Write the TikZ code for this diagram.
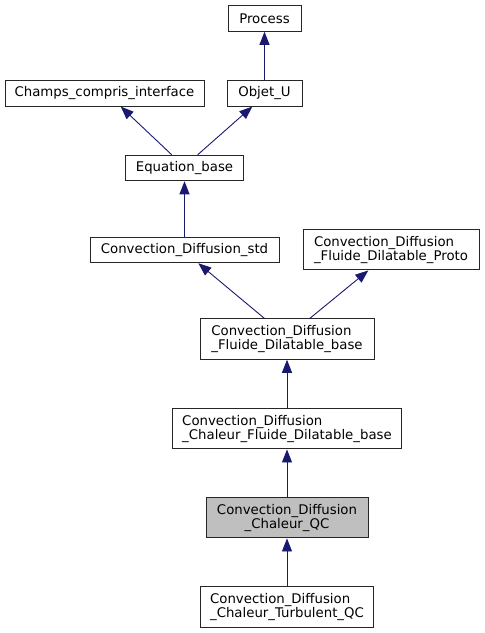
\documentclass[tikz,border=0pt]{standalone}
\usepackage{fontspec}
\setmainfont{DejaVu Sans}
\usetikzlibrary{arrows.meta,positioning}

\tikzset{
	cls/.style={draw=black!85, line width=1pt, fill=white, inner sep=0pt, align=left,
		font=\fontsize{13.3}{14}\selectfont, minimum height=25.5pt},
	cls2/.style={cls, minimum height=40.5pt},
	cur/.style={cls2, fill=black!25, align=center},
	inh/.style={draw={rgb,255:red,25;green,25;blue,112}, line width=0.9pt,
		-{Triangle[length=13pt,width=10pt,fill={rgb,255:red,25;green,25;blue,112}]}}
}

\begin{document}
\begin{tikzpicture}[x=1pt, y=-1pt]
	\useasboundingbox (0,0) rectangle (485,633);
	% classes
	\node[cls, minimum width=73pt] (process) at (264.5, 18.5) {Process};
	\node[cls, minimum width=199pt] (champs) at (104.5, 93.3) {Champs\_compris\_interface};
	\node[cls, minimum width=75pt] (objet) at (264.5, 93.3) {Objet\_U};
	\node[cls, minimum width=118pt] (eqbase) at (184.5, 168) {Equation\_base};
	\node[cls, minimum width=189pt] (cdstd) at (184.5, 250) {Convection\_Diffusion\_std};
	\node[cls2, minimum width=176pt] (proto) at (391, 249.7) {Convection\_Diffusion\\\_Fluide\_Dilatable\_Proto};
	\node[cls2, minimum width=174pt] (fdbase) at (287, 339) {Convection\_Diffusion\\\_Fluide\_Dilatable\_base};
	\node[cls2, minimum width=229pt] (chfdbase) at (287, 428.7) {Convection\_Diffusion\\\_Chaleur\_Fluide\_Dilatable\_base};
	\node[cur, minimum width=162pt] (qc) at (287, 517.7) {Convection\_Diffusion\\\_Chaleur\_QC};
	\node[cls2, minimum width=173pt] (turb) at (287, 607) {Convection\_Diffusion\\\_Chaleur\_Turbulent\_QC};

	% inheritance
	\draw[inh] (objet.north) -- (process.south);
	\draw[inh] ([xshift=-12.8pt]eqbase.north) -- ([xshift=16.2pt]champs.south);
	\draw[inh] ([xshift=13.2pt]eqbase.north) -- ([xshift=-12.2pt]objet.south);
	\draw[inh] (cdstd.north) -- (eqbase.south);
	\draw[inh] ([xshift=-22.7pt]fdbase.north) -- ([xshift=13.8pt]cdstd.south);
	\draw[inh] ([xshift=23pt]fdbase.north) -- ([xshift=-22.7pt]proto.south);
	\draw[inh] (chfdbase.north) -- (fdbase.south);
	\draw[inh] (qc.north) -- (chfdbase.south);
	\draw[inh] (turb.north) -- (qc.south);
\end{tikzpicture}
\end{document}
